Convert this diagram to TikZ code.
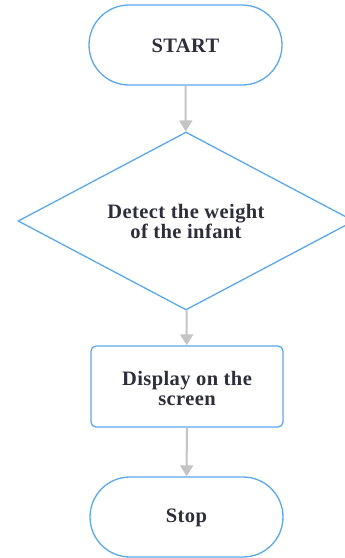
\documentclass[tikz,border=0pt]{standalone}
\usepackage{fontspec}
\setmainfont{Liberation Serif}
\usetikzlibrary{shapes.geometric,shapes.misc,arrows.meta}
\definecolor{edgeblue}{HTML}{5AA8E8}
\definecolor{flowgray}{HTML}{C4C4C4}
\definecolor{inktext}{HTML}{2E2E3A}
\tikzset{
  label text/.style={font=\bfseries\fontsize{20.5}{20}\selectfont\addfontfeature{LetterSpace=2},
    text=inktext, align=center, inner sep=0pt},
  terminal/.style={rounded rectangle, draw=edgeblue, line width=1.3pt,
    minimum width=193pt, minimum height=80pt, inner sep=0pt},
  decision/.style={diamond, draw=edgeblue, line width=1.3pt, aspect=1.89,
    minimum width=336pt, minimum height=178pt, inner sep=0pt},
  process/.style={rectangle, rounded corners=5pt, draw=edgeblue, line width=1.3pt,
    minimum width=192pt, minimum height=81pt, inner sep=0pt},
  flow/.style={draw=flowgray, line width=2pt,
    -{Triangle[width=13pt,length=11pt]}, color=flowgray}
}
\begin{document}
\begin{tikzpicture}[x=1pt,y=-1pt]
  \useasboundingbox (0,0) rectangle (345,558);
  % outlines
  \node[terminal] (start) at (185.5,45) {};
  \node[decision] (detect) at (186,221) {};
  \node[process] (display) at (187,386.5) {};
  \node[terminal] (stop) at (186.5,517) {};
  % captions, set slightly below each shape's centre
  \node[label text] (startText) at ([yshift=-0.5pt]start.center) {START};
  \node[label text] (detectText) at ([yshift=-0.5pt]detect.center) {Detect the weight\\of the infant};
  \node[label text] (displayText) at ([yshift=-2pt]display.center) {Display on the\\screen};
  \node[label text] (stopText) at ([yshift=-1pt]stop.center) {Stop};
  % connectors
  \draw[flow] (start) -- (detect);
  \draw[flow] (detect) -- (display);
  \draw[flow] (display) -- (stop);
\end{tikzpicture}
\end{document}
